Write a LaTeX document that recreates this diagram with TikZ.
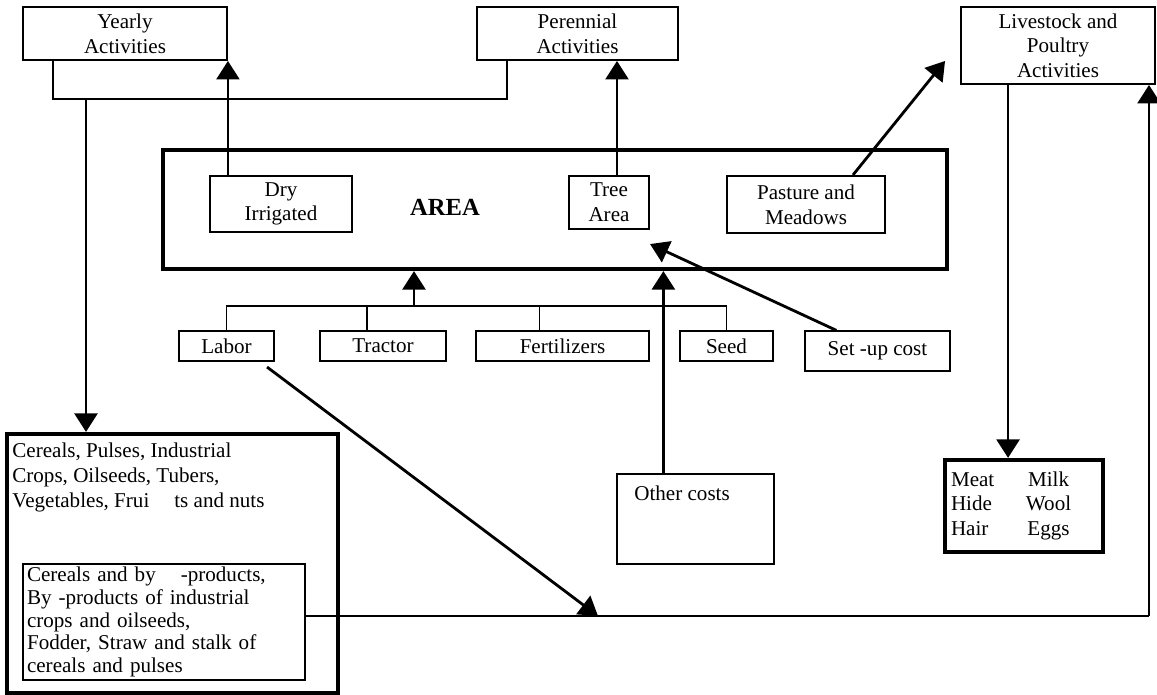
\documentclass[tikz,border=0pt]{standalone}
\usepackage{fontspec}
\setmainfont{Liberation Serif}
\usetikzlibrary{arrows.meta,calc,positioning}

\begin{document}
\begin{tikzpicture}[x=0.02cm,y=-0.02cm,>={Triangle[length=10.5pt,width=13pt]},
  font=\fontsize{12}{14}\selectfont,
  actbox/.style={draw,line width=1.1pt,align=center,inner sep=1pt},
  landbox/.style={draw,line width=1.2pt,align=center,inner sep=1pt},
  costbox/.style={draw,line width=1.2pt,inner sep=1pt,minimum height=0.6cm},
  thinbox/.style={draw,line width=0.7pt,inner sep=1pt},
  heavybox/.style={draw,line width=2.4pt,inner sep=0pt},
  link/.style={line width=0.8pt},
  flow/.style={->,line width=1.6pt}]
\path[use as bounding box] (0,0) rectangle (1157,695);
\fill[white] (0,0) rectangle (1157,695);

% activities
\node[actbox,minimum width=4.08cm,minimum height=1.06cm] (yearly) at (125,33.5) {Yearly\\Activities};
\node[actbox,minimum width=4.02cm,minimum height=1.06cm] (perennial) at (577.5,33.5) {Perennial\\Activities};
\node[actbox,minimum width=3.88cm,minimum height=1.54cm] (livestock) at (1058,45.5) {Livestock and\\Poultry\\Activities};

% land
\node[heavybox,minimum width=15.68cm,minimum height=2.38cm] (area) at (555,209.5) {};
\node[font=\bfseries\fontsize{14}{16}\selectfont] (areaname) at (445,207) {AREA};
\node[landbox,minimum width=2.84cm,minimum height=1.12cm] (dry) at (281,204) {Dry\\Irrigated};
\node[landbox,minimum width=1.6cm,minimum height=1.06cm] (tree) at (609,202.5) {Tree\\Area};
\node[landbox,minimum width=3.16cm,minimum height=1.14cm] (pasture) at (806,204.5) {Pasture and\\Meadows};

% inputs
\node[costbox,minimum width=1.9cm] (labor) at (226.5,346) {Labor};
\node[costbox,minimum width=2.52cm] (tractor) at (383,346) {Tractor};
\node[costbox,minimum width=3.46cm] (fert) at (562.5,346) {Fertilizers};
\node[costbox,minimum width=1.86cm] (seed) at (726.5,346) {Seed};
\node[thinbox,minimum width=2.9cm,minimum height=0.8cm] (setup) at (877.5,351) {Set -up cost};
\node[thinbox,minimum width=3.14cm,minimum height=1.8cm] (other) at (695.5,519) {};
\node[anchor=base west,inner sep=0] (othertext) at (634,501) {Other costs};

% products
\node[heavybox,minimum width=6.62cm,minimum height=5.18cm] (crops) at (172.5,563.5) {};
\node[anchor=north west,inner sep=0,align=left,font=\fontsize{12}{14.2}\selectfont] (cropstext) at (12,443)
  {Cereals, Pulses, Industrial\\Crops, Oilseeds, Tubers,\\Vegetables, Frui\hspace{0.5cm}ts and nuts};
\node[thinbox,minimum width=5.64cm,minimum height=2.32cm,text width=5.48cm,inner xsep=0.08cm,
  align=left,font=\fontsize{12}{13}\selectfont] (byprod) at (164,622)
  {Cereals and by\hspace{0.5cm}-products,\\By -products of industrial\\crops and oilseeds,\\Fodder, Straw and stalk of\\cereals and pulses};
\node[heavybox,minimum width=3.16cm,minimum height=1.84cm,text width=2.92cm,inner xsep=0.12cm,align=left] (meat) at (1024,506)
  {\noindent\begin{tabular}{@{}p{1.5cm}@{}c@{}}Meat & Milk\\Hide & Wool\\Hair & Eggs\end{tabular}};

% links
\coordinate (yfork) at (86,98);
\coordinate (costfork) at (414,306);
\coordinate (feedcorner) at (1149,616);
\coordinate (labortip) at (598,616);
\draw[link] ($(yearly.south west)+(31,0)$) |- ($(perennial.south west)+(31,38)$) -- ($(perennial.south west)+(31,0)$);
\draw[flow] (yfork) -- (yfork |- crops.north);
\draw[flow] (dry.north west -| yearly.south east) -- (yearly.south east);
\draw[flow] ($(tree.north)+(8,0)$) coordinate (tt) -- (tt |- perennial.south);
\draw[flow] ($(pasture.north)+(47,0)$) -- ($(livestock.south west)+(-15,-24)$);
\draw[link] (labor.north) |- (costfork) -| (seed.north);
\draw[link] ($(tractor.north)+(-16,0)$) -- ++(0,-25);
\draw[link] ($(fert.north)+(-23,0)$) -- ++(0,-25);
\draw[flow] (costfork) -- (costfork |- area.south);
\draw[flow] ($(other.north west)+(47,0)$) coordinate (oc) -- (oc |- area.south);
\draw[flow] ($(setup.north west)+(32,0)$) -- ($(tree.south east)+(0,14)$);
\draw[flow] ($(livestock.south west)+(48,0)$) coordinate (lv) -- (lv |- meat.north);
\draw[link] ($(byprod.east)+(0,-6)$) -- (feedcorner);
\draw[flow] (feedcorner) -- (feedcorner |- livestock.south);
\draw[flow] ($(labor.south east)+(-8,5)$) -- (labortip);
\end{tikzpicture}
\end{document}
